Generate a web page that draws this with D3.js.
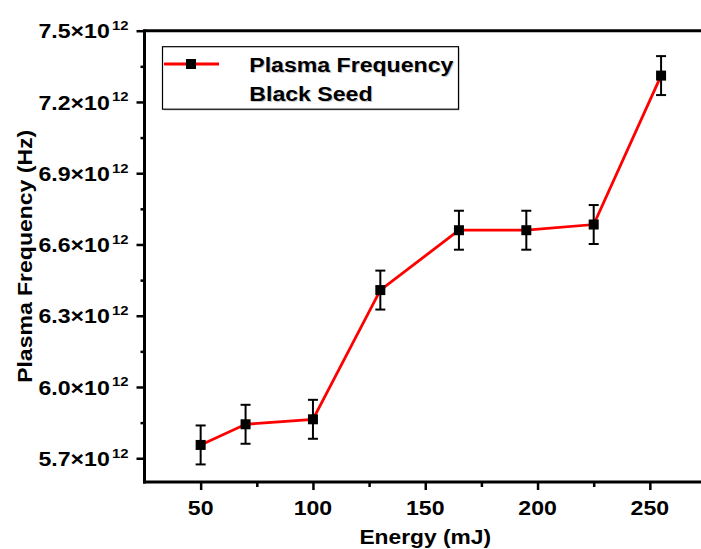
<!DOCTYPE html>
<html><head><meta charset="utf-8">
<script src="https://cdn.jsdelivr.net/npm/d3@7"></script>
<style>
html,body{margin:0;padding:0;background:#fff;}
text{font-family:Arial,"Liberation Sans",sans-serif;font-weight:bold;fill:#000;}
</style></head>
<body>
<svg id="chart" width="701" height="549"></svg>
<script>
// ---- data ----
const energies = [50, 70, 100, 130, 165, 195, 225, 255];           // mJ
const plasmaFreq = [5.756, 5.843, 5.864, 6.408, 6.660, 6.660, 6.684, 7.311]; // ×10^12 Hz
const freqError = [0.082, 0.082, 0.082, 0.082, 0.082, 0.082, 0.082, 0.082];
const xTicks = [50, 100, 150, 200, 250];
const xMinorTicks = [75, 125, 175, 225];
const yTicks = [5.7, 6.0, 6.3, 6.6, 6.9, 7.2, 7.5];
const yMinorTicks = [5.85, 6.15, 6.45, 6.75, 7.05, 7.35];
const seriesName = ["Plasma Frequency", "Black Seed"];
const xTitle = "Energy (mJ)";
const yTitle = "Plasma Frequency (Hz)";
const exponent = "12";

const svg = d3.select("#chart");
const SX = 1.1; // horizontal stretch of glyphs
const x = d3.scaleLinear().domain([25, 275]).range([144.5, 706]);
const y = d3.scaleLinear().domain([5.6, 7.5]).range([482, 30.7]);

// top frame line
svg.append("line").attr("x1", x(25)).attr("x2", 701).attr("y1", y(7.5)).attr("y2", y(7.5))
  .attr("stroke", "#000").attr("stroke-width", 3);

// axes
const gx = svg.append("g").attr("transform", `translate(0,${y(5.6)})`)
  .call(d3.axisBottom(x).tickValues(xTicks).tickSize(8).tickFormat(""));
const gxm = svg.append("g").attr("transform", `translate(0,${y(5.6)})`)
  .call(d3.axisBottom(x).tickValues(xMinorTicks).tickSize(5).tickFormat(""));
const gy = svg.append("g").attr("transform", `translate(${x(25)},0)`)
  .call(d3.axisLeft(y).tickValues(yTicks).tickSize(8).tickFormat(""));
const gym = svg.append("g").attr("transform", `translate(${x(25)},0)`)
  .call(d3.axisLeft(y).tickValues(yMinorTicks).tickSize(4).tickFormat(""));
[gx, gxm, gy, gym].forEach(g => {
  g.select(".domain").attr("stroke", "#000").attr("stroke-width", 3);
  g.selectAll(".tick line").attr("stroke", "#000").attr("stroke-width", 2.5);
});
gy.select(".domain").attr("d", `M0,${y(5.6)+1.5}V${y(7.5)-1.5}`);
gx.select(".domain").attr("d", `M${x(25)-1.5},0H${x(275)}`);
gym.select(".domain").remove();
gxm.select(".domain").remove();

// x tick labels
svg.append("g").selectAll("text").data(xTicks).join("text")
  .attr("transform", d => `translate(${x(d)},515) scale(${SX},1)`)
  .attr("text-anchor", "middle").attr("font-size", 21).text(d => d);

// y tick labels
const fmt = d3.format(".1f");
const yl = svg.append("g").selectAll("text").data(yTicks).join("text")
  .attr("transform", d => `translate(128.5,${y(d) + 7.6}) scale(${SX},1)`)
  .attr("text-anchor", "end").attr("font-size", 21);
yl.append("tspan").text(d => fmt(d) + "×10");
yl.append("tspan").attr("font-size", 13.5).attr("dy", -8.3).attr("dx", 2).text(exponent);

// axis titles
svg.append("text")
  .attr("transform", `translate(${(x(25) + x(275)) / 2},543.5) scale(1.14,1)`)
  .attr("text-anchor", "middle").attr("font-size", 20).text(xTitle);
svg.append("text")
  .attr("transform", `translate(32,${(y(5.6) + y(7.5)) / 2}) rotate(-90) scale(1.15,1)`)
  .attr("text-anchor", "middle").attr("font-size", 20).text(yTitle);

// data line
const pts = energies.map((e, i) => ({ e, v: plasmaFreq[i], err: freqError[i] }));
svg.append("path").datum(pts)
  .attr("d", d3.line().x(d => x(d.e)).y(d => y(d.v)))
  .attr("fill", "none").attr("stroke", "#ff0000").attr("stroke-width", 2.8);

// error bars
const eb = svg.append("g").attr("stroke", "#000").attr("stroke-width", 2).selectAll("g").data(pts).join("g");
eb.append("line").attr("x1", d => x(d.e)).attr("x2", d => x(d.e))
  .attr("y1", d => y(d.v + d.err)).attr("y2", d => y(d.v - d.err));
eb.append("line").attr("x1", d => x(d.e) - 5).attr("x2", d => x(d.e) + 5)
  .attr("y1", d => y(d.v + d.err)).attr("y2", d => y(d.v + d.err));
eb.append("line").attr("x1", d => x(d.e) - 5).attr("x2", d => x(d.e) + 5)
  .attr("y1", d => y(d.v - d.err)).attr("y2", d => y(d.v - d.err));

// markers
svg.append("g").selectAll("rect").data(pts).join("rect")
  .attr("x", d => x(d.e) - 5).attr("y", d => y(d.v) - 5)
  .attr("width", 10).attr("height", 10).attr("fill", "#000");

// legend
const lg = svg.append("g");
lg.append("rect").attr("x", 164).attr("y", 48.5).attr("width", 296).attr("height", 62.5).attr("fill", "#e2e2e2");
lg.append("rect").attr("x", 162.5).attr("y", 46.7).attr("width", 296).attr("height", 62.5)
  .attr("fill", "#fff").attr("stroke", "#000").attr("stroke-width", 1.2);
lg.append("line").attr("x1", 164).attr("x2", 219).attr("y1", 64).attr("y2", 64)
  .attr("stroke", "#ff0000").attr("stroke-width", 2.8);
lg.append("rect").attr("x", 186).attr("y", 59).attr("width", 10).attr("height", 10).attr("fill", "#000");
seriesName.forEach((s, i) => {
  lg.append("text").attr("transform", `translate(250.3,${72.5 + i * 29}) scale(${SX},1)`)
    .attr("font-size", 21).style("fill", "#c8c8c8").text(s);
  lg.append("text").attr("transform", `translate(249.3,${71.7 + i * 29}) scale(${SX},1)`)
    .attr("font-size", 21).text(s);
});
</script>
</body></html>
